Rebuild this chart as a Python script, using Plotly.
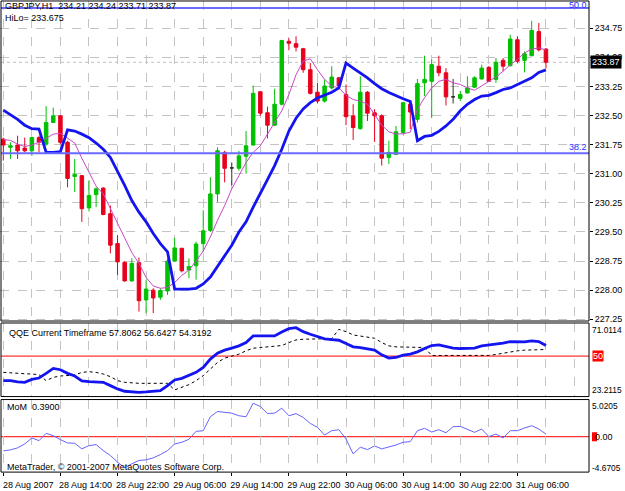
import plotly.graph_objects as go

W, H = 625, 491
FONT = "Liberation Sans"

# ---------------- data ----------------
symbol = "GBPJPY,H1"
time_labels = ["28 Aug 2007", "28 Aug 14:00", "28 Aug 22:00", "29 Aug 06:00", "29 Aug 14:00",
               "29 Aug 22:00", "30 Aug 06:00", "30 Aug 14:00", "30 Aug 22:00", "31 Aug 06:00"]
label_bars = [0, 8, 16, 24, 32, 40, 48, 56, 64, 72]

opens = [231.89, 231.68, 231.74, 231.66, 231.59, 231.93, 231.76, 232.32, 232.49, 231.81,
         230.93, 230.95, 230.12, 230.46, 230.63, 229.97, 229.20, 228.72, 228.24, 228.71,
         227.75, 228.00, 227.82, 227.98, 228.75, 229.08, 228.52, 228.63, 229.20, 229.54,
         230.48, 231.55, 231.15, 231.14, 231.45, 231.74, 233.11, 232.57, 232.25, 232.79,
         234.41, 234.35, 234.22, 233.68, 233.10, 232.87, 233.21, 233.47, 233.04, 232.49,
         232.16, 233.10, 232.57, 232.49, 231.42, 231.50, 232.06, 232.79, 232.40, 233.34,
         233.38, 233.77, 233.60, 232.98, 232.94, 233.08, 233.23, 233.44, 233.74, 233.43,
         233.92, 233.78, 234.45, 233.92, 234.04, 234.66, 234.21]
highs = [231.93, 231.81, 231.98, 231.93, 231.96, 231.98, 232.74, 232.70, 232.51, 231.85,
         231.38, 230.97, 230.83, 230.65, 230.65, 230.18, 229.42, 228.75, 228.82, 228.84,
         228.27, 228.05, 228.05, 228.82, 229.35, 229.09, 228.82, 229.25, 230.06, 230.91,
         231.68, 231.59, 231.29, 231.59, 232.10, 233.27, 233.13, 232.73, 233.19, 234.45,
         234.49, 234.54, 234.24, 233.85, 233.34, 233.43, 233.77, 233.49, 233.30, 232.79,
         233.51, 233.13, 232.66, 232.53, 231.85, 232.23, 232.85, 232.85, 233.44, 234.04,
         233.94, 234.04, 233.72, 233.44, 233.13, 233.51, 233.51, 233.81, 233.77, 233.98,
         233.98, 234.58, 234.54, 234.15, 234.94, 234.88, 234.24]
lows = [231.34, 231.38, 231.38, 231.55, 231.46, 231.55, 231.72, 232.32, 231.76, 230.65,
        230.53, 229.76, 230.03, 230.14, 229.93, 228.95, 228.39, 228.22, 228.22, 227.45,
        227.41, 227.41, 227.75, 227.88, 228.73, 228.46, 228.31, 228.27, 228.99, 229.50,
        230.27, 230.78, 230.70, 231.08, 231.00, 231.72, 232.49, 231.91, 232.23, 232.76,
        234.18, 234.15, 233.60, 233.04, 232.81, 232.83, 233.17, 233.17, 232.25, 231.87,
        232.14, 232.36, 231.82, 231.21, 231.25, 231.48, 232.02, 232.15, 232.32, 233.00,
        232.44, 233.51, 232.76, 232.81, 232.87, 233.07, 233.21, 233.43, 233.36, 233.34,
        233.64, 233.77, 233.85, 233.61, 234.02, 234.15, 233.71]
closes = [231.74, 231.72, 231.59, 231.59, 231.93, 231.81, 232.32, 232.49, 231.81, 230.88,
          230.98, 230.10, 230.44, 230.61, 229.95, 229.16, 228.73, 228.24, 228.69, 227.73,
          228.03, 227.80, 227.99, 228.75, 229.09, 228.50, 228.61, 229.19, 229.53, 230.48,
          231.59, 231.14, 231.15, 231.46, 231.72, 233.07, 232.56, 232.25, 232.79, 234.43,
          234.36, 234.26, 233.68, 233.07, 232.87, 233.26, 233.49, 233.26, 232.47, 232.19,
          233.10, 232.56, 232.49, 231.40, 231.55, 232.08, 232.83, 232.59, 233.32, 233.43,
          233.81, 233.60, 232.98, 232.98, 233.04, 233.21, 233.47, 233.72, 233.38, 233.87,
          233.77, 234.47, 233.90, 234.09, 234.69, 234.19, 233.87]

hilo = [232.64, 232.53, 232.40, 232.25, 232.16, 232.15, 231.55, 231.55, 231.57, 232.13,
        232.10, 232.02, 231.93, 231.79, 231.63, 231.42, 231.08, 230.70, 230.31, 230.01,
        229.76, 229.46, 229.20, 228.99, 228.03, 228.03, 228.03, 228.05, 228.16, 228.34,
        228.61, 228.89, 229.16, 229.50, 229.76, 230.14, 230.48, 230.85, 231.21, 231.63,
        232.10, 232.43, 232.67, 232.83, 232.95, 233.03, 233.10, 233.21, 233.85, 233.72,
        233.60, 233.47, 233.32, 233.19, 233.09, 233.00, 232.93, 232.86, 231.85, 231.96,
        231.99, 232.09, 232.23, 232.40, 232.62, 232.79, 232.91, 233.00, 233.02, 233.09,
        233.17, 233.21, 233.30, 233.38, 233.47, 233.61, 233.675]
ma_line = [231.88, 231.86, 231.76, 231.70, 231.74, 231.81, 231.91, 232.02, 232.04, 231.91,
           231.79, 231.40, 231.02, 230.68, 230.48, 230.10, 229.69, 229.33, 228.97, 228.69,
           228.33, 228.11, 228.05, 228.07, 228.20, 228.38, 228.52, 228.75, 229.01, 229.37,
           229.80, 230.18, 230.61, 230.95, 231.29, 231.55, 231.72, 232.02, 232.32, 232.62,
           233.04, 233.55, 233.90, 233.96, 233.68, 233.43, 233.26, 233.21, 233.02, 232.91,
           232.87, 232.79, 232.53, 232.25, 232.08, 232.02, 232.03, 232.07, 232.66, 232.96,
           233.21, 233.38, 233.43, 233.34, 233.30, 233.21, 233.15, 233.26, 233.36, 233.49,
           233.64, 233.81, 233.94, 234.11, 234.21, 234.24, 234.19]

fib_levels = [231.525, 235.27]
fib_labels = ["38.2", "50.0"]
price_ticks = [227.25, 228.00, 228.75, 229.50, 230.25, 231.00, 231.75, 232.50, 233.25, 234.00, 234.75]

qqe_main = [31.82, 31.82, 30.84, 30.59, 32.80, 33.78, 37.21, 40.89, 39.91, 37.21,
            35.25, 31.57, 31.08, 31.08, 30.59, 28.14, 25.69, 23.97, 23.48, 23.2115,
            23.48, 23.73, 24.46, 28.14, 32.31, 33.53, 35.49, 37.94, 41.62, 47.75,
            52.16, 54.37, 55.84, 57.55, 60.01, 64.91, 64.91, 64.91, 64.91, 67.85,
            70.30, 71.0114, 68.10, 66.13, 64.17, 62.70, 62.21, 61.72, 59.27, 56.82,
            56.33, 55.35, 54.37, 50.94, 48.48, 48.97, 50.69, 51.43, 53.14, 55.59,
            57.80, 58.29, 56.82, 55.84, 55.59, 55.59, 55.84, 57.55, 58.05, 58.78,
            59.52, 60.74, 60.50, 60.50, 61.23, 60.74, 57.8062]
qqe_trail = [37.94, 37.45, 37.21, 36.96, 36.72, 36.23, 31.82, 34.27, 35.25, 35.49,
             35.98, 37.94, 38.44, 37.94, 36.72, 34.76, 31.82, 30.59, 30.10, 29.85,
             29.85, 29.85, 29.85, 29.85, 24.95, 26.91, 28.87, 31.82, 35.49, 40.40,
             45.30, 48.49, 50.20, 51.43, 53.88, 55.84, 56.33, 56.82, 57.07, 57.80,
             60.01, 61.97, 62.46, 62.46, 62.46, 62.46, 62.95, 69.81, 68.10, 65.65,
             64.66, 64.17, 63.19, 60.01, 57.55, 56.82, 56.82, 56.82, 56.82, 56.33,
             50.45, 50.40, 50.35, 50.30, 50.30, 50.30, 50.35, 50.40, 50.50, 51.18,
             52.16, 53.14, 53.88, 54.37, 54.61, 54.86, 54.90]
qqe_title_vals = [57.8062, 56.6427, 54.3192]
qqe_minmax = [23.2115, 71.0114]
qqe_level = 50

mom = [-2.13, -1.98, -1.68, -1.09, -0.19, -0.59, 0.50, 0.15, -0.44, -0.94,
       -0.99, -1.83, -1.34, -1.19, -2.08, -2.83, -3.82, -4.6705, -4.07, -3.57,
       -3.47, -3.18, -2.68, -2.08, -1.09, -0.84, -0.39, 0.80, 0.90, 2.99,
       3.78, 3.63, 3.53, 3.14, 2.99, 5.0205, 4.53, 3.48, 3.53, 4.28,
       3.14, 3.46, 2.89, 1.99, 1.40, 0.25, 0.90, 1.05, -0.34, -2.58,
       -1.58, -1.93, -1.39, -1.83, -1.58, -1.24, -0.84, -0.74, 0.90, 1.25,
       0.70, 1.05, 0.60, 1.50, 1.55, 1.10, 0.65, 1.15, 0.01, 0.40,
       -0.19, 0.90, 0.90, 1.30, 1.65, 1.15, 0.39]
mom_minmax = [-4.6705, 5.0205]
mom_level = 0.0

# ---------------- geometry helpers (pixels -> paper) ----------------
def py(px):
    return 1 - px / H

def pxx(px):
    return px / W

PLOT_R = 589
bars = list(range(len(closes)))
bar_px = 7.14
x0_px = 3.3
xr0 = -x0_px / bar_px
xr1 = xr0 + PLOT_R / bar_px

main_top, main_bot = 1, 323
ppx = 0.75 / 29.3
ref_y, ref_p = 28.3, 234.75
y_main = [ref_p - (main_bot - ref_y) * ppx, ref_p + (ref_y - main_top) * ppx]

q_top, q_bot = 325, 399
q_dmax_y, q_dmin_y = 329.7, 394.7
q_scale = (qqe_minmax[1] - qqe_minmax[0]) / (q_dmin_y - q_dmax_y)
y_qqe = [qqe_minmax[0] - (q_bot - q_dmin_y) * q_scale, qqe_minmax[1] + (q_dmax_y - q_top) * q_scale]

m_top, m_bot = 402, 475
m_dmax_y, m_dmin_y = 405.7, 470.7
m_scale = (mom_minmax[1] - mom_minmax[0]) / (m_dmin_y - m_dmax_y)
y_mom = [mom_minmax[0] - (m_bot - m_dmin_y) * m_scale, mom_minmax[1] + (m_dmax_y - m_top) * m_scale]

GRID = "#c4c4c4"
GREEN = "#00c000"
RED = "#e8001c"

fig = go.Figure()

normal = [i for i in bars if opens[i] != closes[i]]
doji = [i for i in bars if opens[i] == closes[i]]
fig.add_trace(go.Candlestick(
    x=normal, open=[opens[i] for i in normal], high=[highs[i] for i in normal],
    low=[lows[i] for i in normal], close=[closes[i] for i in normal],
    increasing=dict(line=dict(color=GREEN, width=1), fillcolor=GREEN),
    decreasing=dict(line=dict(color=RED, width=1), fillcolor=RED),
    whiskerwidth=0, showlegend=False, hoverinfo="skip", xaxis="x", yaxis="y"))
fig.add_trace(go.Candlestick(
    x=doji, open=[opens[i] for i in doji], high=[highs[i] for i in doji],
    low=[lows[i] for i in doji], close=[closes[i] for i in doji],
    increasing=dict(line=dict(color="#303030", width=1), fillcolor="#303030"),
    decreasing=dict(line=dict(color="#303030", width=1), fillcolor="#303030"),
    whiskerwidth=0, showlegend=False, hoverinfo="skip", xaxis="x", yaxis="y"))

fig.add_trace(go.Scatter(x=bars, y=ma_line, mode="lines", line=dict(color="#c848c8", width=1),
                         showlegend=False, hoverinfo="skip", xaxis="x", yaxis="y"))
fig.add_trace(go.Scatter(x=bars, y=hilo, mode="lines", line=dict(color="#1414f0", width=2.8),
                         showlegend=False, hoverinfo="skip", xaxis="x", yaxis="y"))

fig.add_trace(go.Scatter(x=bars, y=qqe_trail, mode="lines",
                         line=dict(color="#000000", width=1, dash="3px,3px"),
                         showlegend=False, hoverinfo="skip", xaxis="x2", yaxis="y2"))
fig.add_trace(go.Scatter(x=bars, y=qqe_main, mode="lines", line=dict(color="#1414f0", width=2.8),
                         showlegend=False, hoverinfo="skip", xaxis="x2", yaxis="y2"))
fig.add_trace(go.Scatter(x=bars, y=mom, mode="lines", line=dict(color="#6464ff", width=1),
                         showlegend=False, hoverinfo="skip", xaxis="x3", yaxis="y3"))

shapes = []
for lv in fib_levels:
    shapes.append(dict(type="line", xref="paper", yref="y", x0=pxx(1), x1=pxx(PLOT_R), y0=lv, y1=lv,
                       line=dict(color="#6a6aff", width=2), layer="above"))
shapes.append(dict(type="line", xref="paper", yref="y", x0=pxx(1), x1=pxx(PLOT_R), y0=closes[-1], y1=closes[-1],
                   line=dict(color="#c0c0c0", width=1, dash="dot"), layer="below"))
shapes.append(dict(type="line", xref="paper", yref="y2", x0=pxx(1), x1=pxx(PLOT_R), y0=qqe_level, y1=qqe_level,
                   line=dict(color="#ff0000", width=1), layer="below"))
shapes.append(dict(type="line", xref="paper", yref="y3", x0=pxx(1), x1=pxx(PLOT_R), y0=mom_level, y1=mom_level,
                   line=dict(color="#ff0000", width=1), layer="below"))
for t, b in [(main_top, main_bot), (q_top, q_bot), (m_top, m_bot)]:
    shapes.append(dict(type="rect", xref="paper", yref="paper", x0=pxx(1), x1=pxx(PLOT_R),
                       y0=py(b), y1=py(t), line=dict(color="#000000", width=1), layer="above"))
shapes.append(dict(type="rect", xref="paper", yref="y3", x0=pxx(592), x1=pxx(597),
                   y0=mom_level - 4.5 * m_scale, y1=mom_level + 4.5 * m_scale,
                   fillcolor="#ff0000", line=dict(width=0), layer="above"))

f9 = dict(family=FONT, size=9, color="#000000")
f8 = dict(family=FONT, size=8.4, color="#000000")
ann = []
ann.append(dict(x=pxx(3), y=py(6), xref="paper", yref="paper", xanchor="left", yanchor="middle",
                text=f"{symbol}  {opens[-1]:.2f} {highs[-1]:.2f} {lows[-1]:.2f} {closes[-1]:.2f}",
                showarrow=False, font=f9))
ann.append(dict(x=pxx(3), y=py(18), xref="paper", yref="paper", xanchor="left", yanchor="middle",
                text=f"HiLo= {hilo[-1]:.3f}", showarrow=False, font=f9))
for lv, lb, sh in zip(fib_levels, fib_labels, [6, 3]):
    ann.append(dict(x=pxx(588), y=lv, xref="paper", yref="y", xanchor="right", yanchor="middle",
                    text=lb, showarrow=False, font=dict(family=FONT, size=9, color="#3030ff"),
                    yshift=sh, borderpad=0))
ann.append(dict(x=pxx(590), y=closes[-1], xref="paper", yref="y", xanchor="left", yanchor="middle",
                text=f"{closes[-1]:.2f}", showarrow=False, bgcolor="#000000",
                font=dict(family=FONT, size=9, color="#ffffff"), borderpad=1))
ann.append(dict(x=pxx(7), y=py(335), xref="paper", yref="paper", xanchor="left", yanchor="middle",
                text="QQE Current Timeframe " + " ".join(f"{v:.4f}" for v in qqe_title_vals),
                showarrow=False, font=f9))
ann.append(dict(x=pxx(592), y=qqe_level, xref="paper", yref="y2", xanchor="left", yanchor="middle",
                text=f"{qqe_level}", showarrow=False, bgcolor="#ff0000",
                font=dict(family=FONT, size=9, color="#ffffff"), borderpad=0))
for val, ypx in [(qqe_minmax[1], 332), (qqe_minmax[0], 392)]:
    ann.append(dict(x=pxx(591), y=py(ypx), xref="paper", yref="paper", xanchor="left", yanchor="middle",
                    text=f"{val:.4f}", showarrow=False, font=f8, borderpad=0))
for val, ypx in [(mom_minmax[1], 408), (mom_minmax[0], 471)]:
    ann.append(dict(x=pxx(591), y=py(ypx), xref="paper", yref="paper", xanchor="left", yanchor="middle",
                    text=f"{val:.4f}", showarrow=False, font=f8, borderpad=0))
ann.append(dict(x=pxx(5), y=py(409.5), xref="paper", yref="paper", xanchor="left", yanchor="middle",
                text=f"MoM  {mom[-1]:.4f}", showarrow=False, font=f9))
ann.append(dict(x=pxx(593), y=mom_level, xref="paper", yref="y3", xanchor="left", yanchor="middle",
                text=f"{mom_level:.2f}", showarrow=False, font=f9))
ann.append(dict(x=pxx(5), y=py(470), xref="paper", yref="paper", xanchor="left", yanchor="middle",
                text="MetaTrader, © 2001-2007 MetaQuotes Software Corp.", showarrow=False, font=f9))

xcommon = dict(range=[xr0, xr1], domain=[0, PLOT_R / W], showgrid=True, gridcolor=GRID, griddash="dash",
               gridwidth=1, zeroline=False, showline=False, tickmode="linear", tick0=4, dtick=4,
               showticklabels=False, ticks="", fixedrange=True)

fig.update_layout(
    width=W, height=H, margin=dict(l=0, r=0, t=0, b=0),
    paper_bgcolor="#ffffff", plot_bgcolor="#ffffff",
    showlegend=False, font=f9, boxgap=0.3,
    xaxis=dict(**xcommon, anchor="y", rangeslider=dict(visible=False)),
    xaxis2=dict(**xcommon, anchor="y2", matches="x"),
    xaxis3=dict(range=[xr0, xr1], domain=[0, PLOT_R / W], anchor="y3", matches="x",
                tickmode="array", tickvals=label_bars, ticktext=time_labels,
                showgrid=True, gridcolor=GRID, griddash="dash", zeroline=False, showline=False,
                ticks="outside", ticklen=3, tickcolor="#000000", ticklabelshift=25,
                ticklabelstandoff=1, tickfont=f9,
                minor=dict(tickmode="array", tickvals=[v + 4 for v in label_bars], showgrid=True,
                           gridcolor=GRID, griddash="dash", ticks="")),
    yaxis=dict(domain=[py(main_bot), py(main_top)], range=y_main, side="right", anchor="x",
               tickmode="array", tickvals=price_ticks, ticktext=[f"{v:.2f}" for v in price_ticks],
               ticks="outside", ticklen=3, tickcolor="#000000", showgrid=True, gridcolor=GRID,
               griddash="dash", zeroline=False, showline=False, tickfont=f9),
    yaxis2=dict(domain=[py(q_bot), py(q_top)], range=y_qqe, side="right", anchor="x2",
                showticklabels=False, ticks="", showgrid=False, zeroline=False, showline=False),
    yaxis3=dict(domain=[py(m_bot), py(m_top)], range=y_mom, side="right", anchor="x3",
                showticklabels=False, ticks="", showgrid=False, zeroline=False, showline=False),
    shapes=shapes, annotations=ann,
)

fig.write_html("out.html")
